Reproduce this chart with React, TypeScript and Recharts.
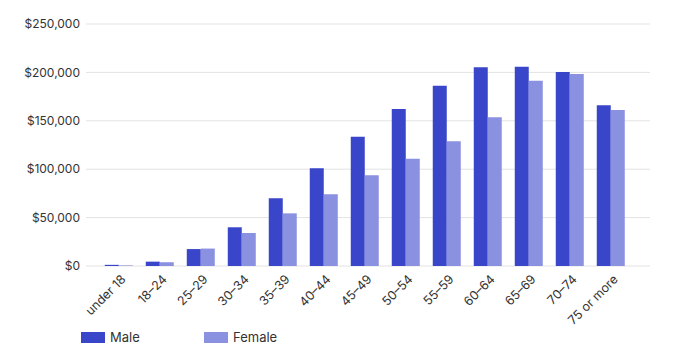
import { Bar, BarChart, CartesianGrid, Legend, XAxis, YAxis } from "recharts";

const ageGroups = [
  "under 18",
  "18–24",
  "25–29",
  "30–34",
  "35–39",
  "40–44",
  "45–49",
  "50–54",
  "55–59",
  "60–64",
  "65–69",
  "70–74",
  "75 or more",
];
const maleValues = [
  1200, 4500, 17500, 40000, 70000, 100900, 133600, 162200, 186300, 205200, 205900, 200400, 166000,
];
const femaleValues = [
  600, 3900, 18000, 34100, 54400, 74000, 93700, 110900, 128800, 153600, 191400, 198300, 161200,
];
const yTicks = [0, 50000, 100000, 150000, 200000, 250000];

const MALE = "#3a46c9";
const FEMALE = "#8a91e0";
const FONT = "Inter, 'Noto Sans', sans-serif";

const data = ageGroups.map((age, i) => ({
  age,
  male: maleValues[i],
  female: femaleValues[i],
}));

const money = (v: number) => "$" + v.toLocaleString("en-US");

function AgeTick({ x, y, payload }: any) {
  const tx = x + 5;
  const ty = y + 3;
  return (
    <text
      x={tx}
      y={ty}
      dy="0.35em"
      textAnchor="end"
      transform={`rotate(-45 ${tx} ${ty})`}
      fontSize={12.5}
      fill="#333"
      fontFamily={FONT}
    >
      {payload.value}
    </text>
  );
}

function LegendRow() {
  const items = [
    { label: "Male", color: MALE },
    { label: "Female", color: FEMALE },
  ];
  return (
    <div style={{ display: "flex", paddingLeft: 81, fontFamily: FONT, fontSize: 13, color: "#333", height: 20, alignItems: "center" }}>
      {items.map((it) => (
        <div key={it.label} style={{ display: "flex", alignItems: "center", width: 123 }}>
          <span style={{ display: "inline-block", width: 24, height: 11, background: it.color, marginRight: 5 }} />
          <span>{it.label}</span>
        </div>
      ))}
    </div>
  );
}

export default function App() {
  return (
    <div style={{ position: "absolute", left: 0, top: 0, width: 673, height: 359, background: "#fff" }}>
      <BarChart
        width={673}
        height={359}
        data={data}
        margin={{ top: 24, right: 23, left: 0, bottom: 12 }}
        barCategoryGap="16.5%"
        barGap={0}
      >
        <CartesianGrid vertical={false} stroke="#e3e3e3" />
        <XAxis
          dataKey="age"
          interval={0}
          tickLine={false}
          axisLine={false}
          height={61}
          padding={{ left: 12, right: 19 }}
          tick={<AgeTick />}
        />
        <YAxis
          width={86}
          domain={[0, 250000]}
          ticks={yTicks}
          tickFormatter={money}
          tickLine={false}
          axisLine={false}
          tickMargin={0}
          tick={{ fontSize: 12, fill: "#333", fontFamily: FONT }}
        />
        <Legend verticalAlign="bottom" align="left" content={<LegendRow />} />
        <Bar dataKey="male" name="Male" fill={MALE} isAnimationActive={false} />
        <Bar dataKey="female" name="Female" fill={FEMALE} isAnimationActive={false} />
      </BarChart>
    </div>
  );
}
